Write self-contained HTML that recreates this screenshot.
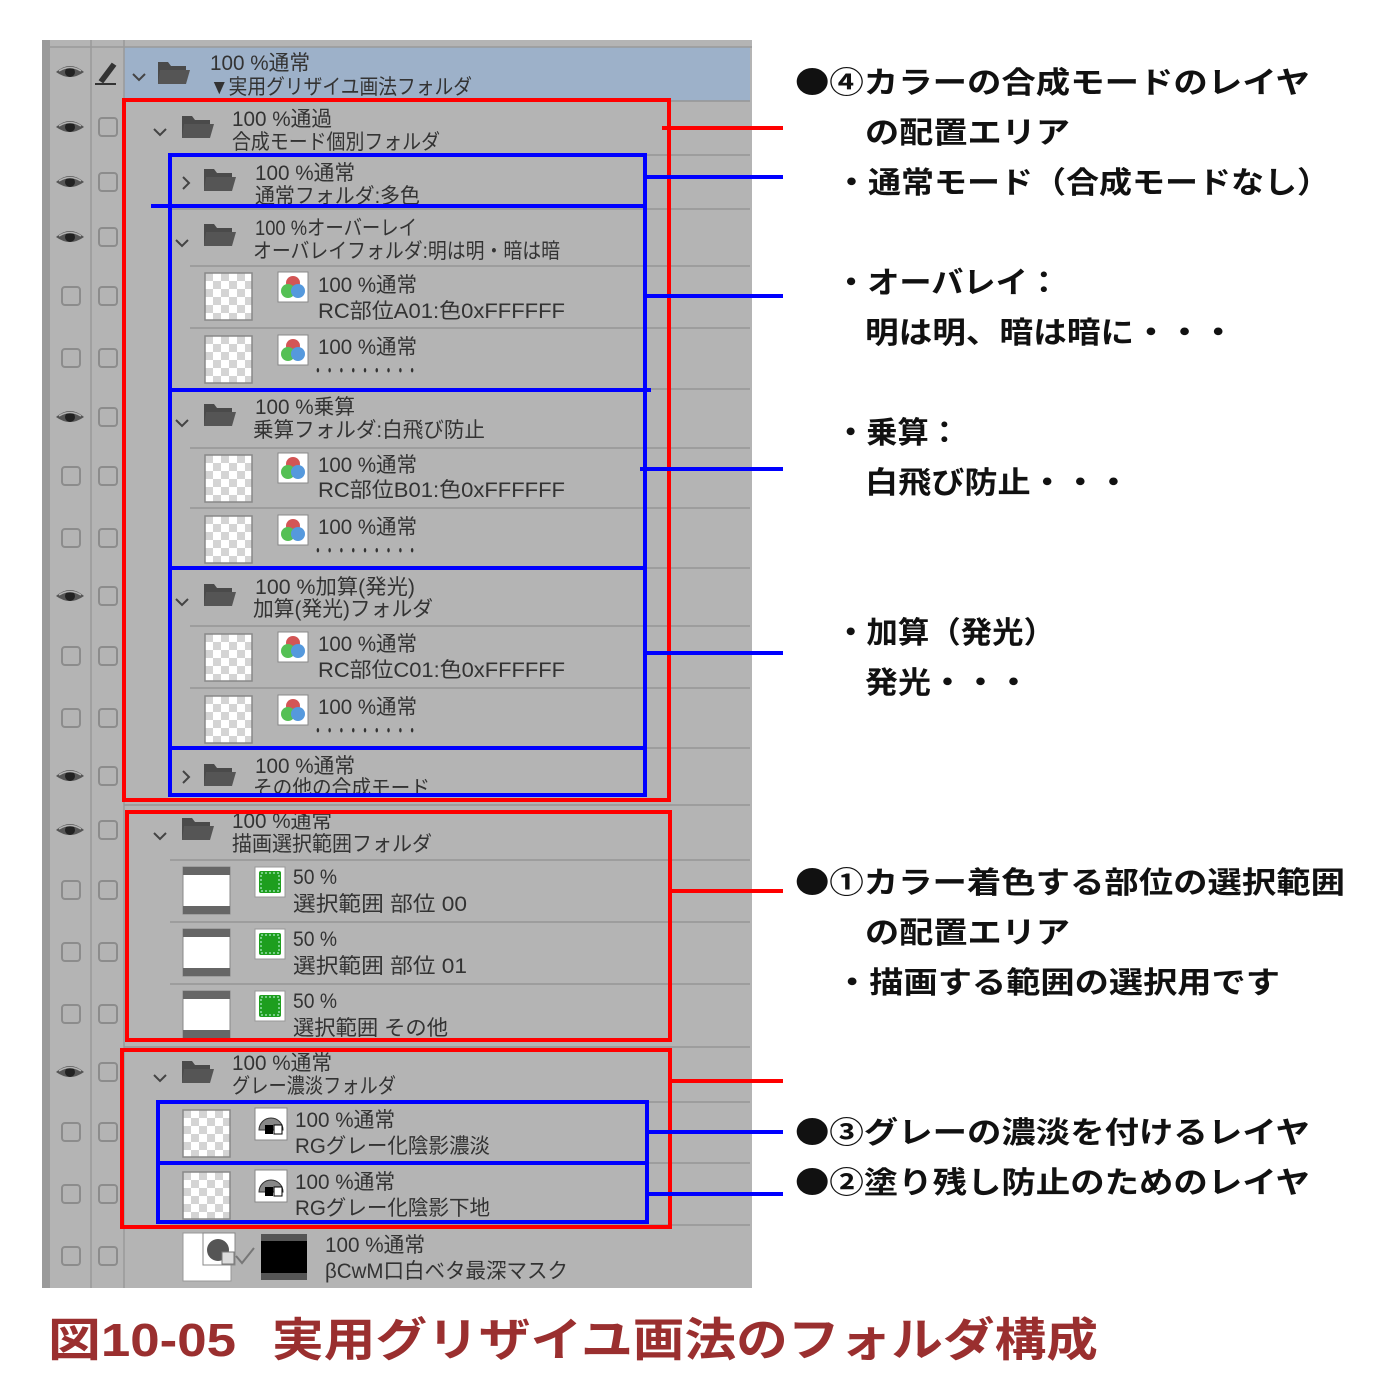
<!DOCTYPE html>
<html><head><meta charset="utf-8">
<style>
html,body{margin:0;padding:0;background:#fff;}
svg{display:block;}
.t{font-family:"Liberation Sans","Noto Sans CJK JP",sans-serif;font-size:21px;fill:#333;}
.a{font-family:"Noto Sans CJK JP","Liberation Sans",sans-serif;font-size:30px;font-weight:bold;fill:#111;}
</style></head><body>
<svg width="1400" height="1394" viewBox="0 0 1400 1394" xmlns="http://www.w3.org/2000/svg">
<defs>
<pattern id="chk" width="16" height="16" patternUnits="userSpaceOnUse">
<rect width="16" height="16" fill="#fff"/><rect width="8" height="8" fill="#d4d4d4"/><rect x="8" y="8" width="8" height="8" fill="#d4d4d4"/>
</pattern>
<g id="eye"><path d="M-14 0 Q0 -12 14 0 Q0 10 -14 0Z" fill="#555"/><circle r="5" fill="#222"/><path d="M-11 -1 Q0 -8 11 -1" stroke="#b3b3b3" stroke-width="1.5" fill="none"/></g>
<g id="cb"><rect x="-9" y="-9" width="18" height="18" rx="3" fill="none" stroke="#8c8c8c" stroke-width="2"/></g>
<g id="fold"><path d="M0 4 L10 4 L13 8 L28 8 L28 26 L0 26Z" fill="#4a4a4a"/><path d="M2 12 L32 12 L28 26 L0 26Z" fill="#555"/></g>
<g id="vchev"><path d="M-6 -3 L0 3 L6 -3" stroke="#444" stroke-width="2" fill="none"/></g>
<g id="rchev"><path d="M-3 -6 L3 0 L-3 6" stroke="#444" stroke-width="2" fill="none"/></g>
<g id="lay"><rect x="0" y="0" width="47" height="47" fill="url(#chk)" stroke="#888" stroke-width="1.5"/></g>
<g id="rgb"><rect x="0" y="0" width="30" height="30" fill="#fff" stroke="#888"/><circle cx="15" cy="11" r="7" fill="#d35555"/><circle cx="10" cy="19" r="7" fill="#55c055"/><circle cx="20" cy="19" r="7" fill="#5599dd"/></g>
<g id="grn"><rect x="0" y="0" width="30" height="30" fill="#fff" stroke="#999"/><rect x="4" y="4" width="22" height="22" rx="2" fill="#1e9e1e"/><rect x="6" y="6" width="18" height="18" fill="none" stroke="#cfe" stroke-dasharray="2 2"/></g>
<g id="sel"><rect x="0" y="0" width="47" height="47" fill="#fff" stroke="#888"/><rect x="0" y="0" width="47" height="8" fill="#666"/><rect x="0" y="39" width="47" height="8" fill="#666"/></g>
<g id="gry"><rect x="0" y="0" width="32" height="32" fill="#fff" stroke="#888"/><path d="M4 22 A12 12 0 0 1 28 22Z" fill="#888" stroke="#333"/><rect x="10" y="17" width="8" height="9" fill="#000"/><rect x="19" y="17" width="8" height="9" fill="#fff" stroke="#000"/></g>
</defs>

<rect x="42" y="40" width="710" height="1248" fill="#b4b4b4"/>
<rect x="42" y="40" width="8" height="1248" fill="#9a9a9a"/>
<rect x="124" y="47" width="626" height="54" fill="#9db1c9"/>
<line x1="50" y1="47" x2="752" y2="47" stroke="#9a9a9a" stroke-width="1.5"/>
<line x1="91" y1="40" x2="91" y2="1288" stroke="#999" stroke-width="1.5"/>
<line x1="124" y1="40" x2="124" y2="1288" stroke="#999" stroke-width="1.5"/>

<g stroke="#959595" stroke-width="1.5">
<line x1="124" y1="101" x2="750" y2="101"/>
<line x1="170" y1="155" x2="750" y2="155"/>
<line x1="170" y1="209" x2="750" y2="209"/>
<line x1="190" y1="266" x2="750" y2="266"/>
<line x1="190" y1="328" x2="750" y2="328"/>
<line x1="170" y1="389" x2="750" y2="389"/>
<line x1="190" y1="448" x2="750" y2="448"/>
<line x1="190" y1="508" x2="750" y2="508"/>
<line x1="170" y1="568" x2="750" y2="568"/>
<line x1="190" y1="626" x2="750" y2="626"/>
<line x1="190" y1="688" x2="750" y2="688"/>
<line x1="170" y1="748" x2="750" y2="748"/>
<line x1="124" y1="805" x2="750" y2="805"/>
<line x1="170" y1="860" x2="750" y2="860"/>
<line x1="170" y1="922" x2="750" y2="922"/>
<line x1="170" y1="984" x2="750" y2="984"/>
<line x1="124" y1="1047" x2="750" y2="1047"/>
<line x1="170" y1="1102" x2="750" y2="1102"/>
<line x1="170" y1="1163" x2="750" y2="1163"/>
<line x1="170" y1="1225" x2="750" y2="1225"/>
</g>

<use href="#eye" x="70" y="72"/>
<path d="M95 84 L116 84 M100 80 L112 64 L115 66 L103 82Z" stroke="#333" stroke-width="2" fill="#333"/>
<use href="#eye" x="70" y="127"/><use href="#cb" x="108" y="127"/>
<use href="#eye" x="70" y="182"/><use href="#cb" x="108" y="182"/>
<use href="#eye" x="70" y="237"/><use href="#cb" x="108" y="237"/>
<use href="#cb" x="71" y="296"/><use href="#cb" x="108" y="296"/>
<use href="#cb" x="71" y="358"/><use href="#cb" x="108" y="358"/>
<use href="#eye" x="70" y="417"/><use href="#cb" x="108" y="417"/>
<use href="#cb" x="71" y="476"/><use href="#cb" x="108" y="476"/>
<use href="#cb" x="71" y="538"/><use href="#cb" x="108" y="538"/>
<use href="#eye" x="70" y="596"/><use href="#cb" x="108" y="596"/>
<use href="#cb" x="71" y="656"/><use href="#cb" x="108" y="656"/>
<use href="#cb" x="71" y="718"/><use href="#cb" x="108" y="718"/>
<use href="#eye" x="70" y="776"/><use href="#cb" x="108" y="776"/>
<use href="#eye" x="70" y="830"/><use href="#cb" x="108" y="830"/>
<use href="#cb" x="71" y="890"/><use href="#cb" x="108" y="890"/>
<use href="#cb" x="71" y="952"/><use href="#cb" x="108" y="952"/>
<use href="#cb" x="71" y="1014"/><use href="#cb" x="108" y="1014"/>
<use href="#eye" x="70" y="1072"/><use href="#cb" x="108" y="1072"/>
<use href="#cb" x="71" y="1132"/><use href="#cb" x="108" y="1132"/>
<use href="#cb" x="71" y="1194"/><use href="#cb" x="108" y="1194"/>
<use href="#cb" x="71" y="1256"/><use href="#cb" x="108" y="1256"/>

<use href="#vchev" x="139" y="77"/><use href="#fold" x="158" y="58"/>
<text class="t" x="210" y="70" textLength="100" lengthAdjust="spacingAndGlyphs">100 %通常</text>
<text class="t" x="210" y="94" textLength="262" lengthAdjust="spacingAndGlyphs">▼実用グリザイユ画法フォルダ</text>

<use href="#vchev" x="160" y="132"/><use href="#fold" x="182" y="112"/>
<text class="t" x="232" y="126" textLength="100" lengthAdjust="spacingAndGlyphs">100 %通過</text>
<text class="t" x="232" y="149" textLength="208" lengthAdjust="spacingAndGlyphs">合成モード個別フォルダ</text>

<use href="#rchev" x="186" y="183"/><use href="#fold" x="204" y="165"/>
<text class="t" x="255" y="180" textLength="100" lengthAdjust="spacingAndGlyphs">100 %通常</text>
<text class="t" x="255" y="203" textLength="165" lengthAdjust="spacingAndGlyphs">通常フォルダ:多色</text>

<use href="#vchev" x="182" y="243"/><use href="#fold" x="204" y="220"/>
<text class="t" x="255" y="235" textLength="162" lengthAdjust="spacingAndGlyphs">100 %オーバーレイ</text>
<text class="t" x="253" y="258" textLength="307" lengthAdjust="spacingAndGlyphs">オーバレイフォルダ:明は明・暗は暗</text>

<use href="#lay" x="205" y="273"/><use href="#rgb" x="278" y="272"/>
<text class="t" x="318" y="292" textLength="99" lengthAdjust="spacingAndGlyphs">100 %通常</text>
<text class="t" x="318" y="318" textLength="247" lengthAdjust="spacingAndGlyphs">RC部位A01:色0xFFFFFF</text>

<use href="#lay" x="205" y="336"/><use href="#rgb" x="278" y="335"/>
<text class="t" x="318" y="354" textLength="99" lengthAdjust="spacingAndGlyphs">100 %通常</text>
<text class="t" x="312" y="378" textLength="106" lengthAdjust="spacingAndGlyphs">・・・・・・・・・</text>

<use href="#vchev" x="182" y="423"/><use href="#fold" x="204" y="400"/>
<text class="t" x="255" y="414" textLength="100" lengthAdjust="spacingAndGlyphs">100 %乗算</text>
<text class="t" x="253" y="437" textLength="232" lengthAdjust="spacingAndGlyphs">乗算フォルダ:白飛び防止</text>

<use href="#lay" x="205" y="455"/><use href="#rgb" x="278" y="453"/>
<text class="t" x="318" y="472" textLength="99" lengthAdjust="spacingAndGlyphs">100 %通常</text>
<text class="t" x="318" y="497" textLength="247" lengthAdjust="spacingAndGlyphs">RC部位B01:色0xFFFFFF</text>

<use href="#lay" x="205" y="516"/><use href="#rgb" x="278" y="515"/>
<text class="t" x="318" y="534" textLength="99" lengthAdjust="spacingAndGlyphs">100 %通常</text>
<text class="t" x="312" y="558" textLength="106" lengthAdjust="spacingAndGlyphs">・・・・・・・・・</text>

<use href="#vchev" x="182" y="602"/><use href="#fold" x="204" y="580"/>
<text class="t" x="255" y="594" textLength="160" lengthAdjust="spacingAndGlyphs">100 %加算(発光)</text>
<text class="t" x="253" y="616" textLength="180" lengthAdjust="spacingAndGlyphs">加算(発光)フォルダ</text>

<use href="#lay" x="205" y="634"/><use href="#rgb" x="278" y="632"/>
<text class="t" x="318" y="651" textLength="99" lengthAdjust="spacingAndGlyphs">100 %通常</text>
<text class="t" x="318" y="677" textLength="247" lengthAdjust="spacingAndGlyphs">RC部位C01:色0xFFFFFF</text>

<use href="#lay" x="205" y="696"/><use href="#rgb" x="278" y="695"/>
<text class="t" x="318" y="714" textLength="99" lengthAdjust="spacingAndGlyphs">100 %通常</text>
<text class="t" x="312" y="738" textLength="106" lengthAdjust="spacingAndGlyphs">・・・・・・・・・</text>

<use href="#rchev" x="186" y="777"/><use href="#fold" x="204" y="760"/>
<text class="t" x="255" y="773" textLength="100" lengthAdjust="spacingAndGlyphs">100 %通常</text>
<text class="t" x="253" y="795" textLength="177" lengthAdjust="spacingAndGlyphs">その他の合成モード</text>

<use href="#vchev" x="160" y="836"/><use href="#fold" x="182" y="814"/>
<text class="t" x="232" y="828" textLength="100" lengthAdjust="spacingAndGlyphs">100 %通常</text>
<text class="t" x="232" y="851" textLength="200" lengthAdjust="spacingAndGlyphs">描画選択範囲フォルダ</text>

<use href="#sel" x="183" y="867"/><use href="#grn" x="255" y="867"/>
<text class="t" x="293" y="884" textLength="44" lengthAdjust="spacingAndGlyphs">50 %</text>
<text class="t" x="293" y="911" textLength="174" lengthAdjust="spacingAndGlyphs">選択範囲 部位 00</text>

<use href="#sel" x="183" y="929"/><use href="#grn" x="255" y="929"/>
<text class="t" x="293" y="946" textLength="44" lengthAdjust="spacingAndGlyphs">50 %</text>
<text class="t" x="293" y="973" textLength="174" lengthAdjust="spacingAndGlyphs">選択範囲 部位 01</text>

<use href="#sel" x="183" y="991"/><use href="#grn" x="255" y="991"/>
<text class="t" x="293" y="1008" textLength="44" lengthAdjust="spacingAndGlyphs">50 %</text>
<text class="t" x="293" y="1035" textLength="155" lengthAdjust="spacingAndGlyphs">選択範囲 その他</text>

<use href="#vchev" x="160" y="1078"/><use href="#fold" x="182" y="1057"/>
<text class="t" x="232" y="1070" textLength="100" lengthAdjust="spacingAndGlyphs">100 %通常</text>
<text class="t" x="232" y="1093" textLength="164" lengthAdjust="spacingAndGlyphs">グレー濃淡フォルダ</text>

<use href="#lay" x="183" y="1110"/><use href="#gry" x="255" y="1108"/>
<text class="t" x="295" y="1127" textLength="100" lengthAdjust="spacingAndGlyphs">100 %通常</text>
<text class="t" x="295" y="1153" textLength="195" lengthAdjust="spacingAndGlyphs">RGグレー化陰影濃淡</text>

<use href="#lay" x="183" y="1172"/><use href="#gry" x="255" y="1170"/>
<text class="t" x="295" y="1189" textLength="100" lengthAdjust="spacingAndGlyphs">100 %通常</text>
<text class="t" x="295" y="1215" textLength="195" lengthAdjust="spacingAndGlyphs">RGグレー化陰影下地</text>

<rect x="183" y="1233" width="48" height="48" fill="#fff" stroke="#999"/>
<rect x="203" y="1233" width="32" height="32" fill="#fff" stroke="#888"/>
<circle cx="218" cy="1250" r="11" fill="#555"/>
<rect x="222" y="1252" width="12" height="12" fill="#ddd" stroke="#777"/>
<path d="M236 1256 L242 1263 L254 1248" stroke="#777" stroke-width="2" fill="none"/>
<rect x="261" y="1234" width="46" height="46" fill="#555"/><rect x="261" y="1241" width="46" height="32" fill="#000"/>
<text class="t" x="325" y="1252" textLength="100" lengthAdjust="spacingAndGlyphs">100 %通常</text>
<text class="t" x="325" y="1278" textLength="243" lengthAdjust="spacingAndGlyphs">βCwM口白ベタ最深マスク</text>

<g fill="none" stroke="#ff0000" stroke-width="4">
<rect x="124" y="100" width="545" height="700"/>
<rect x="127" y="812" width="543" height="228"/>
<rect x="122" y="1050" width="548" height="177"/>
<line x1="662" y1="128" x2="783" y2="128"/>
<line x1="670" y1="891" x2="783" y2="891"/>
<line x1="670" y1="1081" x2="783" y2="1081"/>
</g>
<g fill="none" stroke="#0000ff" stroke-width="4">
<rect x="170" y="155" width="475" height="640"/>
<line x1="151" y1="206" x2="645" y2="206"/>
<line x1="170" y1="390" x2="651" y2="390"/>
<line x1="170" y1="568" x2="645" y2="568"/>
<line x1="170" y1="748" x2="645" y2="748"/>
<rect x="158" y="1102" width="489" height="61"/>
<rect x="158" y="1163" width="489" height="59"/>
<line x1="645" y1="177" x2="783" y2="177"/>
<line x1="645" y1="296" x2="783" y2="296"/>
<line x1="640" y1="469" x2="783" y2="469"/>
<line x1="645" y1="653" x2="783" y2="653"/>
<line x1="647" y1="1132" x2="783" y2="1132"/>
<line x1="647" y1="1194" x2="783" y2="1194"/>
</g>

<text class="a" x="795" y="93" textLength="515" lengthAdjust="spacingAndGlyphs">●④カラーの合成モードのレイヤ</text>
<text class="a" x="865" y="143" textLength="205" lengthAdjust="spacingAndGlyphs">の配置エリア</text>
<text class="a" x="835" y="193" textLength="495" lengthAdjust="spacingAndGlyphs">・通常モード（合成モードなし）</text>
<text class="a" x="835" y="293" textLength="225" lengthAdjust="spacingAndGlyphs">・オーバレイ：</text>
<text class="a" x="865" y="343" textLength="370" lengthAdjust="spacingAndGlyphs">明は明、暗は暗に・・・</text>
<text class="a" x="835" y="443" textLength="125" lengthAdjust="spacingAndGlyphs">・乗算：</text>
<text class="a" x="865" y="493" textLength="265" lengthAdjust="spacingAndGlyphs">白飛び防止・・・</text>
<text class="a" x="835" y="643" textLength="220" lengthAdjust="spacingAndGlyphs">・加算（発光）</text>
<text class="a" x="865" y="693" textLength="165" lengthAdjust="spacingAndGlyphs">発光・・・</text>
<text class="a" x="795" y="893" textLength="550" lengthAdjust="spacingAndGlyphs">●①カラー着色する部位の選択範囲</text>
<text class="a" x="865" y="943" textLength="205" lengthAdjust="spacingAndGlyphs">の配置エリア</text>
<text class="a" x="835" y="993" textLength="445" lengthAdjust="spacingAndGlyphs">・描画する範囲の選択用です</text>
<text class="a" x="795" y="1143" textLength="515" lengthAdjust="spacingAndGlyphs">●③グレーの濃淡を付けるレイヤ</text>
<text class="a" x="795" y="1193" textLength="515" lengthAdjust="spacingAndGlyphs">●②塗り残し防止のためのレイヤ</text>

<text x="48" y="1356" textLength="188" lengthAdjust="spacingAndGlyphs" style="font-family:'Liberation Sans','Noto Sans CJK JP',sans-serif;font-size:46px;font-weight:bold;fill:#9a2f2f">図10-05</text>
<text x="272" y="1356" textLength="826" lengthAdjust="spacingAndGlyphs" style="font-family:'Noto Sans CJK JP',sans-serif;font-size:46px;font-weight:bold;fill:#9a2f2f">実用グリザイユ画法のフォルダ構成</text>
</svg>
</body></html>
